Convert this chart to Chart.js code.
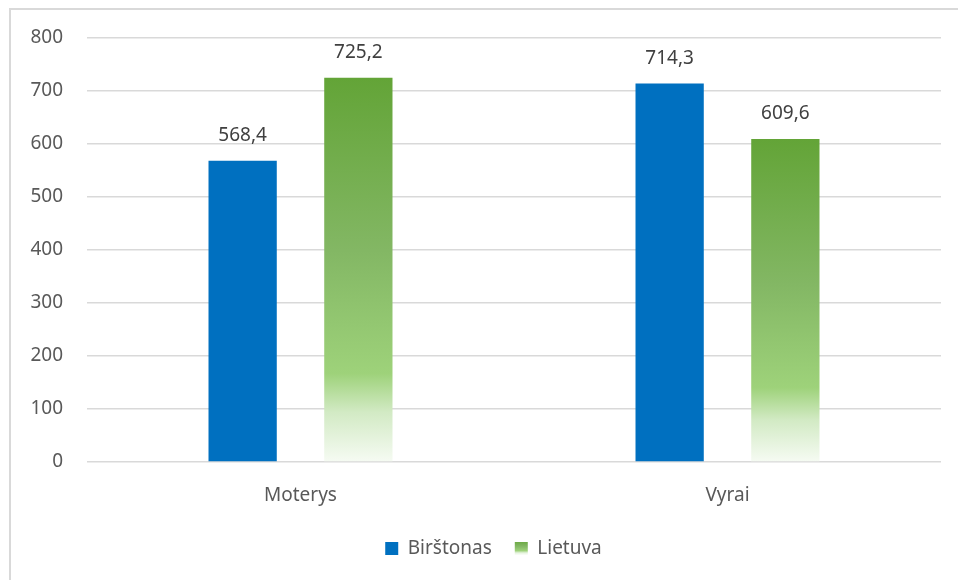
<!DOCTYPE html>
<html lang="lt">
<head>
<meta charset="utf-8">
<title>Moterys / Vyrai</title>
<script src="https://cdn.jsdelivr.net/npm/chart.js@4/dist/chart.umd.min.js"></script>
<style>
    html, body { margin: 0; padding: 0; background: #fff; }
    #frame {
        position: absolute; left: 9px; top: 8px; width: 949px; height: 572px;
        border-left: 2px solid #d9d9d9; border-top: 2px solid #d9d9d9;
    }
    #wrap { position: absolute; left: 0; top: 0; width: 958px; height: 580px; }
</style>
</head>
<body>
<div id="frame"></div>
<div id="wrap"><canvas id="chartLyginimas" width="958" height="580"></canvas></div>
<script>
// ── Duomenys ──────────────────────────────────────────────────────────────
var kategorijos = ['Moterys', 'Vyrai'];
var birstonas   = [568.4, 714.3];
var lietuva     = [725.2, 609.6];
var yTicks      = [0, 100, 200, 300, 400, 500, 600, 700, 800];

var MELYNA = '#0070c0';
var ZALIA  = '#63a338';
var TEKSTAS = '#595959';
var SRIFTAS = "'Noto Sans', 'Open Sans', sans-serif";
var DYDIS = 19;

// Žalias gradientas kiekvienam stulpeliui atskirai
function zaliasGradientas(ctx, top, bottom) {
    var g = ctx.createLinearGradient(0, top, 0, bottom);
    g.addColorStop(0,    'rgb(99,164,55)');
    g.addColorStop(0.45, 'rgb(131,183,100)');
    g.addColorStop(0.77, 'rgb(158,210,122)');
    g.addColorStop(0.87, 'rgb(210,234,196)');
    g.addColorStop(1,    'rgb(246,251,243)');
    return g;
}

function lietuvaFonas(c) {
    var chart = c.chart;
    if (c.type !== 'data' || !chart.chartArea) return ZALIA;
    var y = chart.scales.y;
    return zaliasGradientas(chart.ctx, y.getPixelForValue(c.raw), y.getPixelForValue(0));
}

// ── Reikšmės virš stulpelių ───────────────────────────────────────────────
var reiksmes = {
    id: 'reiksmes',
    afterLayout: function (chart) {
        // legenda šiek tiek dešiniau nei centras
        chart.legend.left += 23;
        chart.legend.right += 23;
    },
    afterDatasetsDraw: function (chart) {
        var ctx = chart.ctx;
        ctx.save();
        ctx.font = DYDIS + 'px ' + SRIFTAS;
        ctx.fillStyle = '#404040';
        ctx.textAlign = 'center';
        ctx.textBaseline = 'middle';
        chart.data.datasets.forEach(function (ds, i) {
            chart.getDatasetMeta(i).data.forEach(function (bar, j) {
                ctx.fillText(ds.data[j].toFixed(1).replace('.', ','), bar.x, bar.y - 25);
            });
        });
        ctx.restore();
    }
};

new Chart(document.getElementById('chartLyginimas').getContext('2d'), {
    type: 'bar',
    data: {
        labels: kategorijos,
        datasets: [
            { label: 'Birštonas', data: birstonas, backgroundColor: MELYNA },
            { label: 'Lietuva',   data: lietuva,   backgroundColor: lietuvaFonas }
        ]
    },
    options: {
        responsive: false,
        animation: false,
        categoryPercentage: 0.542,
        barPercentage: 0.59,
        layout: { padding: { left: 0, right: 17, top: 38, bottom: 12 } },
        plugins: {
            tooltip: { enabled: false },
            legend: {
                position: 'bottom',
                labels: {
                    color: TEKSTAS,
                    font: { family: SRIFTAS, size: DYDIS },
                    boxWidth: 13,
                    boxHeight: 13,
                    padding: 23,
                    generateLabels: function (chart) {
                        var items = Chart.defaults.plugins.legend.labels.generateLabels(chart);
                        items.forEach(function (it) {
                            it.lineWidth = 0;
                            if (it.datasetIndex === 1) it.fillStyle = zaliasGradientas(chart.ctx, 540, 554);
                        });
                        return items;
                    }
                }
            }
        },
        scales: {
            x: {
                grid: { display: false, drawTicks: false },
                border: { display: false },
                ticks: { color: TEKSTAS, font: { family: SRIFTAS, size: DYDIS }, padding: 22 },
                afterFit: function (s) { s.height = 54; }
            },
            y: {
                min: 0,
                max: 800,
                afterBuildTicks: function (s) { s.ticks = yTicks.map(function (v) { return { value: v }; }); },
                grid: { color: '#d9d9d9', lineWidth: 1.5, drawTicks: false },
                border: { display: false },
                ticks: { color: TEKSTAS, font: { family: SRIFTAS, size: DYDIS }, padding: 24 },
                afterFit: function (s) { s.width = 87; }
            }
        }
    },
    plugins: [reiksmes]
});
</script>
</body>
</html>
